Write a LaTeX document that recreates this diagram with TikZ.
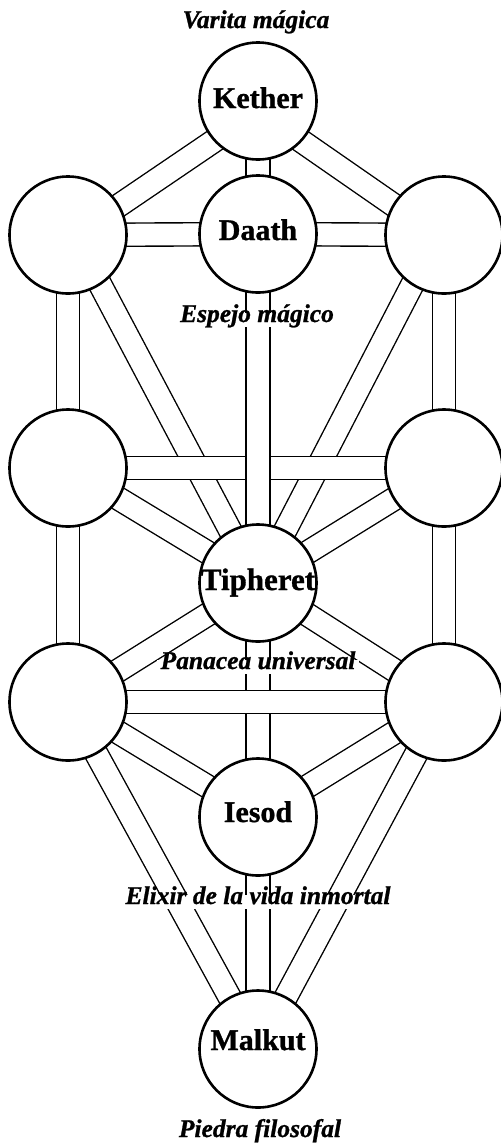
\documentclass[tikz,border=0pt]{standalone}
\usepackage{fontspec}
\setmainfont{Liberation Serif}[BoldFeatures={FakeBold=1}, BoldItalicFeatures={FakeBold=1}]
\usetikzlibrary{calc,backgrounds}
\begin{document}
\begin{tikzpicture}[x=1pt,y=-1pt,
  sephira/.style={circle, draw, line width=2.6pt, fill=white, minimum size=117pt, inner sep=0pt},
  sname/.style={font=\bfseries\fontsize{30}{30}\selectfont, anchor=base, inner sep=0pt},
  motto/.style={font=\bfseries\itshape\fontsize{25.5}{25.5}\selectfont, anchor=base, fill=white,
                inner xsep=4pt, inner ysep=2pt, text height=0.75em, text depth=0.25em},
  chanthin/.style={line width=1.4pt, double=white, double distance=21.8pt},
  chanthick/.style={line width=2.6pt, double=white, double distance=21.4pt},
]
\useasboundingbox (0,0) rectangle (501,1144);

% the sephiroth
\node[sephira] (K)  at (258,101)  {};
\node[sephira] (D)  at (258,234)  {};
\node[sephira] (LU) at (68,235)   {};
\node[sephira] (RU) at (444,235)  {};
\node[sephira] (LM) at (68,468)   {};
\node[sephira] (RM) at (444,468)  {};
\node[sephira] (T)  at (258,583)  {};
\node[sephira] (LL) at (68,702)   {};
\node[sephira] (RL) at (444,702)  {};
\node[sephira] (I)  at (258,817)  {};
\node[sephira] (M)  at (258,1049) {};

% names inside the circles
\node[sname] at ($(K)+(0,7)$) {Kether};
\node[sname] at ($(D)+(0,6)$) {Daath};
\node[sname, font=\bfseries\fontsize{31}{31}\selectfont] at ($(T)+(0,7)$) {Tipheret};
\node[sname] at ($(I)+(0,5)$) {Iesod};
\node[sname] at ($(M)+(0,1)$) {Malkut};

% the paths between them, kept behind the circles
\begin{scope}[on background layer]
  \draw[chanthin] ($(K)+(0,10)$) -- ($(LU)+(0,5)$);
  \draw[chanthin] ($(K)+(0,10)$) -- ($(RU)+(0,5)$);
  \draw[chanthin] (LU.center) -- (D.center);
  \draw[chanthin] (RU.center) -- (D.center);
  \draw[chanthin] (LU.center) -- (LM.center);
  \draw[chanthin] (RU.center) -- (RM.center);
  \draw[chanthin] ($(LU)+(6,0)$) -- (T.center);
  \draw[chanthin] ($(RU)+(-6,0)$) -- (T.center);
  \draw[chanthin] (LM.center) -- (T.center);
  \draw[chanthin] (RM.center) -- (T.center);
  \draw[chanthin] (LM.center) -- (LL.center);
  \draw[chanthin] (RM.center) -- (RL.center);
  \draw[chanthin] (LL.center) -- (T.center);
  \draw[chanthin] (RL.center) -- (T.center);
  \draw[chanthin] (LL.center) -- (I.center);
  \draw[chanthin] (RL.center) -- (I.center);
  \draw[chanthin] (LL.center) -- (M.center);
  \draw[chanthin] (RL.center) -- (M.center);
  \draw[chanthin] (LM.center) -- (RM.center);
  \draw[chanthick] (K.center) -- (D.center);
  \draw[chanthick] (D.center) -- (T.center);
  \draw[chanthick] (T.center) -- (I.center);
  \draw[chanthick] (I.center) -- (M.center);
  \draw[chanthin] (LL.center) -- (RL.center);
\end{scope}

% alchemical attributions
\node[motto] (varita)  at (256,28)   {Varita mágica};
\node[motto] (espejo)  at (257,322)  {Espejo mágico};
\node[motto] (panacea) at (258,669)  {Panacea universal};
\node[motto] (elixir)  at (258,904)  {Elixir de la vida inmortal};
\node[motto] (piedra)  at (260,1137) {Piedra filosofal};
\end{tikzpicture}
\end{document}
